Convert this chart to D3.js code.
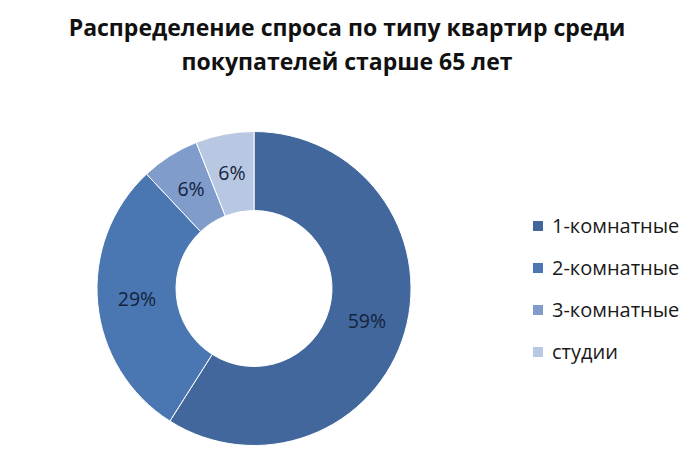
<!DOCTYPE html>
<html><head><meta charset="utf-8">
<script src="https://cdn.jsdelivr.net/npm/d3@7"></script>
<style>body{margin:0;background:#fff}</style>
</head><body>
<svg id="c" width="700" height="474"></svg>
<script>
const titleLines = ["Распределение спроса по типу квартир среди", "покупателей старше 65 лет"];
const categories = ["1-комнатные", "2-комнатные", "3-комнатные", "студии"];
const values = [59, 29, 6, 6];
const colors = ["#41679c", "#4a76b1", "#7f9ccb", "#b8c8e2"];

const svg = d3.select("#c");
const font = "'Open Sans', sans-serif";

svg.selectAll("text.title").data(titleLines).join("text")
  .attr("class","title")
  .attr("x", 347).attr("y", (d,i)=>36 + i*34)
  .attr("text-anchor","middle")
  .attr("font-family", font).attr("font-weight","bold").attr("font-size", 23)
  .attr("fill","#111").text(d=>d);

const cx = 254, cy = 288.5, R = 157, r = 78;
const pie = d3.pie().sort(null).value(d=>d);
const arcs = pie(values);
const arc = d3.arc().innerRadius(r).outerRadius(R);
const g = svg.append("g").attr("transform", `translate(${cx},${cy})`);
g.selectAll("path").data(arcs).join("path")
  .attr("d", arc).attr("fill",(d,i)=>colors[i])
  .attr("stroke","#fff").attr("stroke-width",1);
g.selectAll("text").data(arcs).join("text")
  .attr("transform", d=>`translate(${arc.centroid(d)})`)
  .attr("text-anchor","middle").attr("dy","0.35em")
  .attr("font-family", font).attr("font-size", 19.5)
  .attr("fill","#14233d").text(d=>d.data+"%");

const lg = svg.append("g");
const rows = lg.selectAll("g").data(categories).join("g")
  .attr("transform",(d,i)=>`translate(533,${226 + i*42})`);
rows.append("rect").attr("x",0).attr("y",-5).attr("width",10).attr("height",10)
  .attr("fill",(d,i)=>colors[i]);
rows.append("text").attr("x",19).attr("dy","0.35em")
  .attr("font-family", font).attr("font-size", 20).attr("fill","#1a1a1a").text(d=>d);
</script>
</body></html>
